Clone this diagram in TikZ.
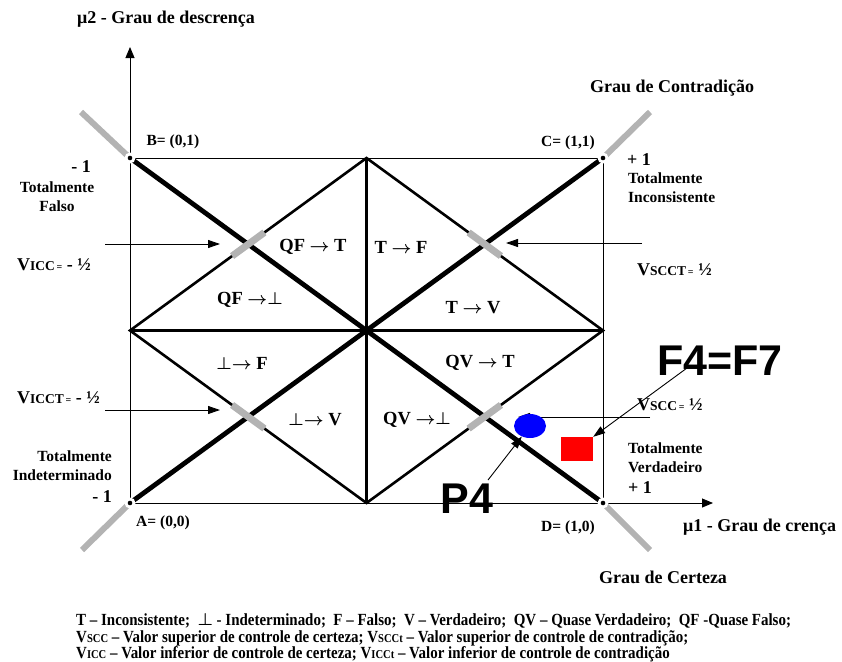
\documentclass[tikz,border=0pt]{standalone}
\usepackage{fontspec}
\setmainfont{Liberation Serif}
\newfontfamily\sansbig{Liberation Sans}
\newfontfamily\legfont{Liberation Serif}[FakeStretch=0.88]
\usepackage{tikz}
\usetikzlibrary{arrows.meta,calc,shapes.geometric}
\definecolor{pgray}{HTML}{B3B3B3}
\definecolor{pblue}{HTML}{0000FF}
\definecolor{pred}{HTML}{FF0000}
% V with its small capitals, then "= value"
\newcommand{\vctl}[2]{V{\fontsize{13.5}{14}\selectfont #1}{\fontsize{10}{10}\selectfont\,=\,}\,#2}
\newcommand{\vleg}[1]{V{\fontsize{12}{12}\selectfont #1}}
\tikzset{
  frame/.style = {line width=0.9pt},
  ax/.style    = {line width=0.9pt, -{Triangle[length=11pt,width=9pt]}},
  diag/.style  = {line width=4.8pt},
  midh/.style  = {line width=3.8pt},
  midv/.style  = {line width=3pt},
  side/.style  = {line width=2.6pt},
  gtick/.style = {draw=pgray, line width=7pt},
  gext/.style  = {draw=pgray, line width=6pt},
  ptr/.style   = {line width=0.9pt, -{Triangle[length=12pt,width=8pt]}},
  reg/.style   = {font=\bfseries\boldmath\fontsize{18.5}{18}\selectfont, inner sep=0pt},
  ttl/.style   = {font=\bfseries\fontsize{18}{20}\selectfont, inner sep=0pt},
  lab/.style   = {font=\bfseries\fontsize{15.5}{19}\selectfont, inner sep=0pt},
  num/.style   = {font=\bfseries\fontsize{18}{18}\selectfont, inner sep=0pt},
  big/.style   = {font=\sansbig\bfseries\fontsize{43}{43}\selectfont, inner sep=0pt},
  leg/.style   = {font=\legfont\bfseries\boldmath\fontsize{17}{17}\selectfont, inner sep=0pt, anchor=base west},
}

\begin{document}
\begin{tikzpicture}[x=1pt,y=-1pt]
\useasboundingbox (0,0) rectangle (842,661);

% ---- square, middle points, crossings with the rhombus
\coordinate (A) at (130,503);
\coordinate (B) at (130,158);
\coordinate (C) at (603,158);
\coordinate (D) at (603,503);
\coordinate (L) at (130,330.5);
\coordinate (R) at (603,330.5);
\coordinate (T) at (366.5,158);
\coordinate (M) at (366.5,503);
\coordinate (xtl) at (248.25,244.25);
\coordinate (xtr) at (484.75,244.25);
\coordinate (xbl) at (248.25,416.75);
\coordinate (xbr) at (484.75,416.75);
\coordinate (ytip) at (130,47);
\coordinate (xtip) at (713,503);
\coordinate (Bx) at (81,112);
\coordinate (Cx) at (650,112);
\coordinate (Ax) at (82,550);
\coordinate (Dx) at (650,550);

% ---- grey prolongations
\draw[gext] (B) -- (Bx);
\draw[gext] (C) -- (Cx);
\draw[gext] (A) -- (Ax);
\draw[gext] (D) -- (Dx);

% ---- frame and axes
\draw[frame] (B) -- (C) -- (D);
\draw[ax] (A) -- (ytip);
\draw[ax] (A) -- (xtip);

% ---- lattice
\draw[midv] (T) -- (M);
\draw[midh] (L) -- (R);
\draw[side] (L) -- (T) -- (R) -- (M) -- cycle;
\draw[diag] (B) -- (D);
\draw[diag] (A) -- (C);

% ---- control limits
\foreach \p/\u/\v in {xtl/L/T, xtr/T/R, xbl/L/M, xbr/M/R}
  \draw[gtick] ($(\p)!20pt!(\u)$) -- ($(\p)!20pt!(\v)$);

\foreach \c in {A,B,C,D} {
  \fill[white] (\c) circle (5.5pt);
  \fill (\c) circle (2.3pt);
}

% ---- regions
\node[reg] (qft) at (313,247) {QF $\to$ T};
\node[reg] (tf)  at (401,247) {T $\to$ F};
\node[reg] (qfi) at (250,300) {QF $\to\perp$};
\node[reg] (tv)  at (473,308) {T $\to$ V};
\node[reg] (if)  at (242,363) {$\perp\to$ F};
\node[reg] (qvt) at (480,363) {QV $\to$ T};
\node[reg] (iv)  at (315,420) {$\perp\to$ V};
\node[reg] (qvi) at (417,420) {QV $\to\perp$};

% ---- axis titles and corners
\node[ttl] (ytitle) at (166,19) {μ2 - Grau de descrença};
\node[ttl, anchor=west] (xtitle) at (683,527) {μ1 - Grau de crença};
\node[ttl] (ctitle) at (672,88) {Grau de Contradição};
\node[ttl] (ztitle) at (663,577) {Grau de Certeza};
\node[lab] (bl) at (173,142) {B= (0,1)};
\node[lab] (cl) at (568,143) {C= (1,1)};
\node[lab] (al) at (163,523) {A= (0,0)};
\node[lab] (dl) at (568,528) {D= (1,0)};

\node[num, anchor=east] (bn) at (91,167) {- 1};
\node[lab, align=center] (falso) at (57,197) {Totalmente\\Falso};
\node[num, anchor=west] (cn) at (627,160) {+ 1};
\node[lab, align=left, anchor=west] (incons) at (628,188) {Totalmente\\Inconsistente};
\node[lab, align=right, anchor=east] (indet) at (112,466) {Totalmente\\Indeterminado};
\node[num, anchor=east] (an) at (112,497) {- 1};
\node[lab, align=left, anchor=west] (verd) at (628,457.5) {Totalmente\\Verdadeiro};
\node[num, anchor=west] (dn) at (628,488) {+ 1};

% ---- control values
\node[num, anchor=west] (vicc)  at (17,265) {\vctl{ICC}{- ½}};
\node[num, anchor=west] (vicct) at (17,398) {\vctl{ICCT}{- ½}};
\node[num, anchor=west] (vscct) at (637,270) {\vctl{SCCT}{½}};
\node[num, anchor=west] (vscc)  at (637,405) {\vctl{SCC}{½}};
\coordinate (vicc0) at (105,244);   \coordinate (vicc1) at (220,244);
\coordinate (vicct0) at (105,410);  \coordinate (vicct1) at (220,410);
\coordinate (vscct0) at (642,243);  \coordinate (vscct1) at (506,243);
\coordinate (vscc0) at (650,417);   \coordinate (vscc1) at (518,417);
\draw[ptr] (vicc0) -- (vicc1);
\draw[ptr] (vicct0) -- (vicct1);
\draw[ptr] (vscct0) -- (vscct1);
\draw[ptr] (vscc0) -- (vscc1);

% ---- the two points
\node[ellipse, fill=pblue, minimum width=32pt, minimum height=24pt, inner sep=0pt] (p4pt) at (530,426) {};
\node[fill=pred, minimum width=32pt, minimum height=24pt, inner sep=0pt] (f47pt) at (577,449) {};
\node[big, anchor=base] (f47) at (720,375) {F4=F7};
\node[big, anchor=base] (p4) at (467,513) {P4};
\coordinate (f47a) at (687,368);
\coordinate (p4a) at (488,480);
\draw[ptr] (f47a) -- (f47pt.north east);
\draw[ptr] (p4a) -- (p4pt);

% ---- legend
\node[leg] (leg1) at (76,625) {T – Inconsistente;\ \ $\perp$ - Indeterminado;\ \ F – Falso;\ \ V – Verdadeiro;\ \ QV – Quase Verdadeiro;\ \ QF -Quase Falso;};
\node[leg] (leg2) at (76,642) {\vleg{SCC} – Valor superior de controle de certeza; \vleg{SCCt} – Valor superior de controle de contradição;};
\node[leg] (leg3) at (76,658) {\vleg{ICC} – Valor inferior de controle de certeza; \vleg{ICCt} – Valor inferior de controle de contradição};

\end{tikzpicture}
\end{document}
